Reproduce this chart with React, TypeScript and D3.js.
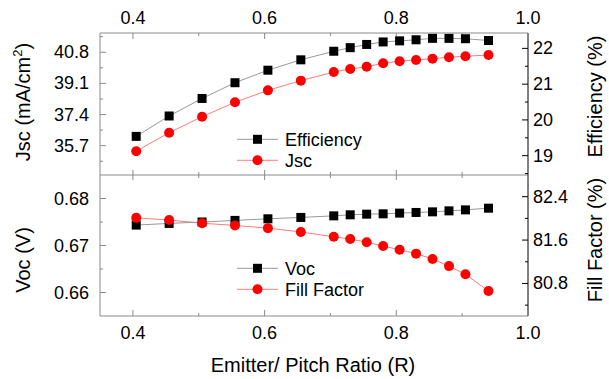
import React from "react";
import * as d3 from "d3";

const ratio = [0.405, 0.455, 0.505, 0.555, 0.605, 0.655, 0.705, 0.73, 0.755, 0.78, 0.805, 0.83, 0.855, 0.88, 0.905, 0.94];
const efficiency = [19.54, 20.11, 20.6, 21.04, 21.39, 21.68, 21.92, 22.02, 22.11, 22.18, 22.21, 22.24, 22.28, 22.28, 22.27, 22.22];
const jsc = [35.4, 36.41, 37.28, 38.07, 38.72, 39.25, 39.72, 39.89, 40.01, 40.2, 40.31, 40.38, 40.45, 40.53, 40.58, 40.65];
const voc = [0.67434, 0.6747, 0.675, 0.67534, 0.67568, 0.67597, 0.67631, 0.67653, 0.67667, 0.67674, 0.67689, 0.67703, 0.67716, 0.67737, 0.67758, 0.67794];
const fillFactor = [82.01, 81.97, 81.91, 81.87, 81.82, 81.75, 81.66, 81.62, 81.56, 81.49, 81.42, 81.35, 81.25, 81.12, 80.97, 80.66];

const xTicks = [0.4, 0.6, 0.8, 1.0];
const xMinor = [0.5, 0.7, 0.9];
const jscTicks = [35.7, 37.4, 39.1, 40.8];
const jscMinor = [34.85, 36.55, 38.25, 39.95, 41.65];
const effTicks = [19, 20, 21, 22];
const effMinor = [18.5, 19.5, 20.5, 21.5];
const vocTicks = [0.66, 0.67, 0.68];
const vocMinor = [0.665, 0.675];
const ffTicks = [80.8, 81.6, 82.4];
const ffMinor = [80.4, 81.2, 82.0];

const W = 609, H = 379;
const L = 100, R = 528, T = 33, M = 175, B = 316;
const FONT = "'Liberation Sans', Arial, sans-serif";
const GRAY = "#8a8a8a";
const LINE_GRAY = "#999";
const LINE_RED = "#ff7b7b";
const RED = "#ff0000";

export default function App() {
  const x = d3.scaleLinear().domain([0.35, 1.0]).range([L, R]);
  const yJsc = d3.scaleLinear().domain([34.1, 41.85]).range([M, T]);
  const yEff = d3.scaleLinear().domain([18.46, 22.43]).range([M, T]);
  const yVoc = d3.scaleLinear().domain([0.655, 0.685]).range([B, M]);
  const yFF = d3.scaleLinear().domain([80.2, 82.8]).range([B, M]);

  const line = (ys: number[], yScale: d3.ScaleLinear<number, number>) =>
    d3.line<number>().x((_, i) => x(ratio[i])).y((v) => yScale(v))(ys) || "";

  const squares = (ys: number[], yScale: d3.ScaleLinear<number, number>) =>
    ys.map((v, i) => (
      <rect key={i} x={x(ratio[i]) - 4.5} y={yScale(v) - 4.5} width={9} height={9} fill="#000" />
    ));
  const circles = (ys: number[], yScale: d3.ScaleLinear<number, number>) =>
    ys.map((v, i) => <circle key={i} cx={x(ratio[i])} cy={yScale(v)} r={5} fill={RED} />);

  const leftAxis = (scale: d3.ScaleLinear<number, number>, major: number[], minor: number[], fmt: (v: number) => string) => (
    <g>
      {major.map((t) => (
        <g key={"M" + t}>
          <line x1={L} x2={L + 6} y1={scale(t)} y2={scale(t)} stroke={GRAY} />
          <text x={L - 11} y={scale(t)} textAnchor="end" dominantBaseline="central" fontSize={18}>{fmt(t)}</text>
        </g>
      ))}
      {minor.map((t) => (
        <line key={"m" + t} x1={L} x2={L + 3} y1={scale(t)} y2={scale(t)} stroke={GRAY} />
      ))}
    </g>
  );
  const rightAxis = (scale: d3.ScaleLinear<number, number>, major: number[], minor: number[], fmt: (v: number) => string) => (
    <g>
      {major.map((t) => (
        <g key={"M" + t}>
          <line x1={R - 6} x2={R} y1={scale(t)} y2={scale(t)} stroke="#000" />
          <text x={R + 5} y={scale(t)} textAnchor="start" dominantBaseline="central" fontSize={18}>{fmt(t)}</text>
        </g>
      ))}
      {minor.map((t) => (
        <line key={"m" + t} x1={R - 3} x2={R} y1={scale(t)} y2={scale(t)} stroke="#000" />
      ))}
    </g>
  );

  const legend = (yTop: number, label1: string, label2: string) => (
    <g>
      <line x1={237} x2={278} y1={yTop} y2={yTop} stroke={LINE_GRAY} />
      <rect x={257.5 - 4.5} y={yTop - 4.5} width={9} height={9} fill="#000" />
      <text x={285} y={yTop + 1} dominantBaseline="central" fontSize={18}>{label1}</text>
      <line x1={237} x2={278} y1={yTop + 21} y2={yTop + 21} stroke={LINE_RED} />
      <circle cx={257.5} cy={yTop + 21} r={5} fill={RED} />
      <text x={285} y={yTop + 22} dominantBaseline="central" fontSize={18}>{label2}</text>
    </g>
  );

  return (
    <svg width={W} height={H} style={{ position: "absolute", left: 0, top: 0, background: "#fff" }} fontFamily={FONT}>
      <rect x={0} y={0} width={W} height={H} fill="#fff" />
      {/* frame */}
      <line x1={L} x2={R} y1={T} y2={T} stroke={GRAY} />
      <line x1={L} x2={R} y1={M} y2={M} stroke={GRAY} />
      <line x1={L} x2={R} y1={B} y2={B} stroke={GRAY} />
      <line x1={L} x2={L} y1={T} y2={B} stroke={GRAY} />
      <line x1={R} x2={R} y1={T} y2={B} stroke="#000" />

      {/* x ticks */}
      {xTicks.map((t) => (
        <g key={"x" + t}>
          <line x1={x(t)} x2={x(t)} y1={T} y2={T + 6} stroke={GRAY} />
          <line x1={x(t)} x2={x(t)} y1={M - 5} y2={M + 5} stroke={GRAY} />
          <line x1={x(t)} x2={x(t)} y1={B - 6} y2={B} stroke={GRAY} />
          <text x={x(t)} y={24} textAnchor="middle" fontSize={18}>{t.toFixed(1)}</text>
          <text x={x(t)} y={338.5} textAnchor="middle" fontSize={18}>{t.toFixed(1)}</text>
        </g>
      ))}
      {xMinor.map((t) => (
        <g key={"xm" + t}>
          <line x1={x(t)} x2={x(t)} y1={T} y2={T + 3} stroke={GRAY} />
          <line x1={x(t)} x2={x(t)} y1={M - 3} y2={M + 3} stroke={GRAY} />
          <line x1={x(t)} x2={x(t)} y1={B - 3} y2={B} stroke={GRAY} />
        </g>
      ))}

      {leftAxis(yJsc, jscTicks, jscMinor, (v) => v.toFixed(1))}
      {rightAxis(yEff, effTicks, effMinor, (v) => String(v))}
      {leftAxis(yVoc, vocTicks, vocMinor, (v) => v.toFixed(2))}
      {rightAxis(yFF, ffTicks, ffMinor, (v) => v.toFixed(1))}

      {/* series */}
      <path d={line(jsc, yJsc)} fill="none" stroke={LINE_RED} />
      <path d={line(efficiency, yEff)} fill="none" stroke={LINE_GRAY} />
      {circles(jsc, yJsc)}
      {squares(efficiency, yEff)}

      <path d={line(fillFactor, yFF)} fill="none" stroke={LINE_RED} />
      <path d={line(voc, yVoc)} fill="none" stroke={LINE_GRAY} />
      {squares(voc, yVoc)}
      {circles(fillFactor, yFF)}

      {legend(139.3, "Efficiency", "Jsc")}
      {legend(268.3, "Voc", "Fill Factor")}

      {/* axis titles */}
      <text transform="translate(30,102) rotate(-90)" textAnchor="middle" fontSize={20}>
        Jsc (mA/cm<tspan dy={-8} fontSize={13}>2</tspan><tspan dy={8}>)</tspan>
      </text>
      <text transform="translate(30,260) rotate(-90)" textAnchor="middle" fontSize={20}>Voc (V)</text>
      <text transform="translate(602,96.5) rotate(-90)" textAnchor="middle" fontSize={20}>Efficiency (%)</text>
      <text transform="translate(602,240) rotate(-90)" textAnchor="middle" fontSize={20}>Fill Factor (%)</text>
      <text x={313} y={372} textAnchor="middle" fontSize={20}>Emitter/ Pitch Ratio (R)</text>
    </svg>
  );
}
